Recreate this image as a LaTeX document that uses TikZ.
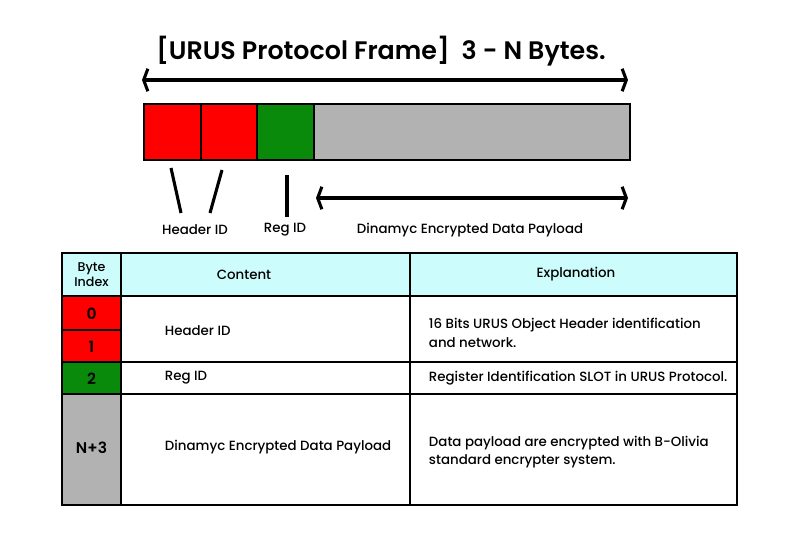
\documentclass[tikz,border=0pt]{standalone}
\usepackage{fontspec}
\setmainfont{Poppins Medium}
\newfontfamily\titlefont{Poppins SemiBold}
\usetikzlibrary{arrows.meta}

\definecolor{bytered}{HTML}{FF0000}
\definecolor{bytegreen}{HTML}{0A8A0A}
\definecolor{bytegray}{HTML}{B2B2B2}
\definecolor{headcyan}{HTML}{CCFCFC}

\begin{document}
\begin{tikzpicture}[x=0.025cm,y=-0.025cm,
		byte/.style={draw,line width=1.5pt},
		cell/.style={draw,line width=2pt},
		tick/.style={line width=2.2pt},
		span/.style={line width=2.2pt,{Straight Barb[length=3pt,width=16pt]}-{Straight Barb[length=3pt,width=16pt]}},
		lbl/.style={font=\fontsize{9.5}{11}\selectfont},
		idx/.style={font=\titlefont\fontsize{11}{12}\selectfont},
		txt/.style={font=\fontsize{9.5}{13}\selectfont,anchor=west,align=left}]

		\useasboundingbox (0,0) rectangle (800,533);

		% title and frame length
		\node[font=\titlefont\fontsize{18}{20}\selectfont] (title) at (381,51) {[URUS Protocol Frame]\ \ 3 - N Bytes.};
		\coordinate (fl) at (142,80);
		\coordinate (fr) at (628,80);
		\draw[span] (fl)--(fr);

		% the frame
		\filldraw[byte,fill=bytered] (144,104) rectangle (201,160);
		\filldraw[byte,fill=bytered] (201,104) rectangle (257,160);
		\filldraw[byte,fill=bytegreen] (257,104) rectangle (314,160);
		\filldraw[byte,fill=bytegray] (314,104) rectangle (630,160);

		% pointers to the parts
		\draw[tick] (171,168)--(181,213);
		\draw[tick] (222,170)--(210,213);
		\draw[tick] (287,175)--(287,217);
		\coordinate (pl) at (316,198);
		\coordinate (pr) at (628,198);
		\draw[span] (pl)--(pr);

		\node[lbl] (hdr) at (195,230) {Header ID};
		\node[lbl] (reg) at (285,230) {Reg ID};
		\node[lbl] (pay) at (470,230) {Dinamyc Encrypted Data Payload};

		% table
		\fill[headcyan] (62,253) rectangle (737,296);
		\fill[bytered] (62,296) rectangle (121,362);
		\fill[bytegreen] (62,362) rectangle (121,394);
		\fill[bytegray] (62,394) rectangle (121,505);
		\draw[cell] (62,253) rectangle (737,505);
		\draw[cell] (121,253)--(121,505);
		\draw[cell] (410,253)--(410,505);
		\draw[cell] (62,296)--(737,296);
		\draw[cell] (62,330)--(121,330);
		\draw[cell] (62,362)--(737,362);
		\draw[cell] (62,394)--(737,394);

		\node[font=\fontsize{9}{10.5}\selectfont,align=center] (bi) at (91.5,274.5) {Byte\\Index};
		\node[lbl] (co) at (244,274.5) {Content};
		\node[lbl] (ex) at (576,274.5) {Explanation};

		\node[idx] (b0) at (91.5,314) {0};
		\node[idx] (b1) at (91.5,347) {1};
		\node[idx] (b2) at (91.5,379) {2};
		\node[idx] (b3) at (91.5,448) {N+3};

		\node[txt] (c0) at (160,331) {Header ID};
		\node[txt] (c2) at (160,378) {Reg ID};
		\node[txt] (c3) at (160,447) {Dinamyc Encrypted Data Payload};

		\node[txt] (e0) at (424,333) {16 Bits URUS Object Header identification\\and network.};
		\node[txt] (e2) at (424,378) {Register Identification SLOT in URUS Protocol.};
		\node[txt] (e3) at (424,452) {Data payload are encrypted with B-Olivia\\standard encrypter system.};

	\end{tikzpicture}
\end{document}
